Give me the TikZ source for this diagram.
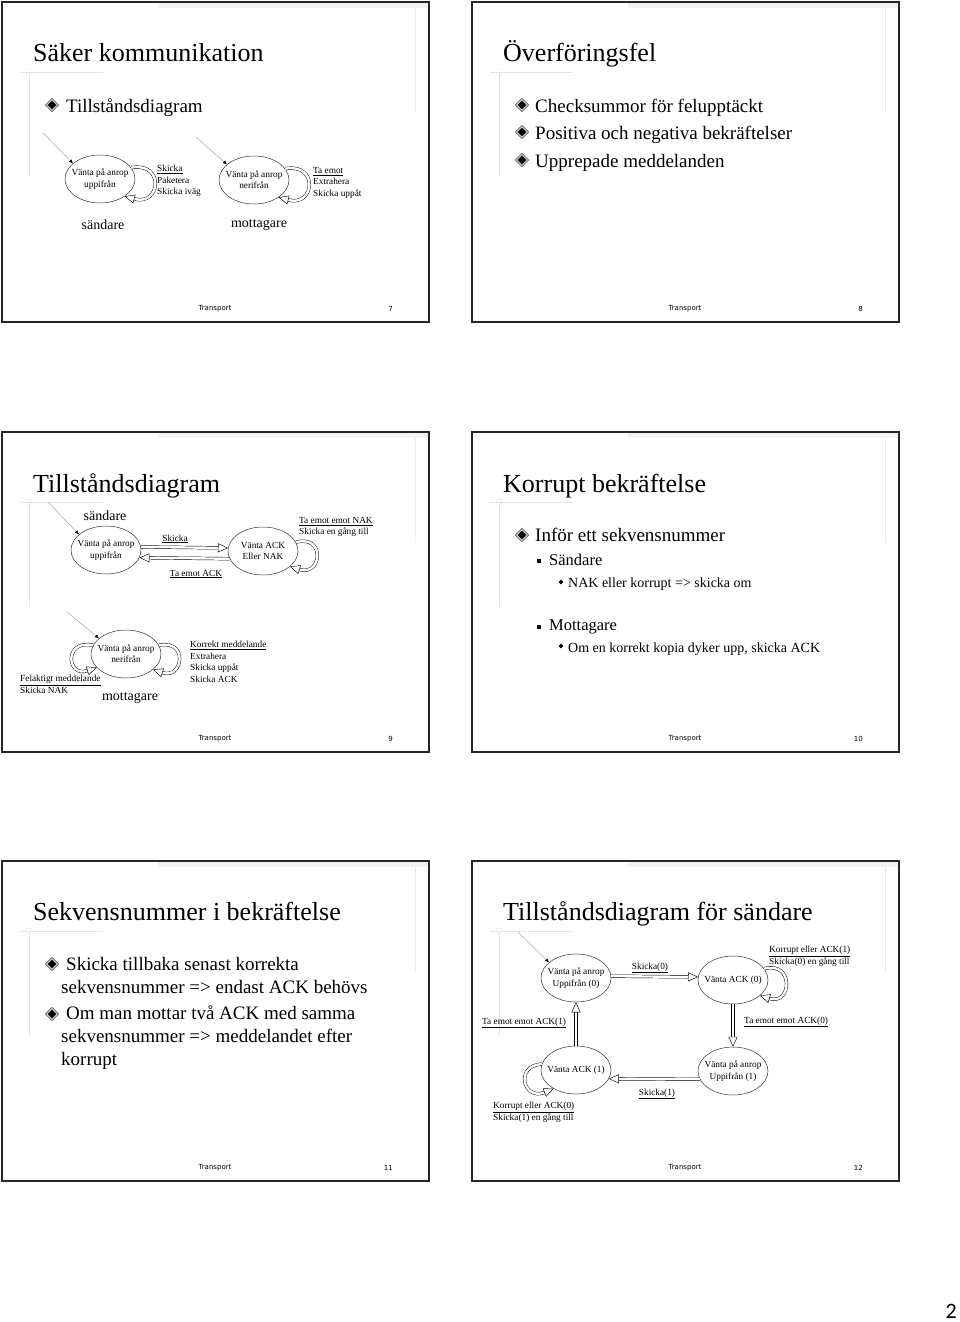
\documentclass[tikz,border=0pt]{standalone}
\usepackage{fontspec}
\setmainfont{Liberation Serif}
\newfontfamily\footfont{DejaVu Sans}
\newfontfamily\pagefont{Carlito}
\usetikzlibrary{shapes.geometric,arrows.meta}

\tikzset{
  title/.style={anchor=base west, inner sep=0pt, font=\fontsize{26}{31}\selectfont},
  item/.style={anchor=base west, inner sep=0pt, font=\fontsize{19}{23}\selectfont},
  para/.style={anchor=north west, inner sep=0pt, align=left, font=\fontsize{19}{23}\selectfont},
  subitem/.style={anchor=base west, inner sep=0pt, font=\fontsize{16.5}{20}\selectfont},
  subsubitem/.style={anchor=base west, inner sep=0pt, font=\fontsize{14}{17}\selectfont},
  bul/.style={diamond, draw=black, line width=0.4pt, double=gray!55, double distance=1.4pt,
    fill=black, minimum size=11pt, inner sep=0pt},
  sq/.style={rectangle, fill=black, minimum size=4.5pt, inner sep=0pt},
  dot/.style={diamond, fill=black, minimum size=5pt, inner sep=0pt},
  state/.style={ellipse, draw=black!80, line width=0.5pt, minimum width=70pt, minimum height=48pt,
    inner xsep=-12pt, inner ysep=0pt, align=center, font=\fontsize{9.3}{11.3}\selectfont},
  lbl/.style={anchor=north west, inner sep=0pt, align=left, font=\fontsize{9.3}{11.5}\selectfont},
  tag/.style={inner sep=0pt, font=\fontsize{9.3}{11.3}\selectfont},
  role/.style={inner sep=0pt, font=\fontsize{14}{17}\selectfont},
  foot/.style={inner sep=0pt, font=\footfont\fontsize{7}{8}\selectfont},
  init/.style={draw=gray!70, line width=0.5pt, -{Latex[color=black, length=4pt, width=3.5pt]}},
  hollow/.style={double, double distance=2.4pt, line width=0.45pt,
    -{Triangle[open, length=10pt, width=9pt]}},
}

\begin{document}
\begin{tikzpicture}[x=1pt,y=-1pt]
  \useasboundingbox (0,0) rectangle (960,1322);

  % slide frames and footers
  \foreach \x/\y/\n in {0/0/7,470/0/8,0/430/9,470/430/10,0/859/11,470/859/12}{
    \fill[gray!10] (\x+158,\y+3) rectangle (\x+428,\y+8);
    \draw[gray!15] (\x+415,\y+8) -- (\x+415,\y+113);
    \draw[gray!20] (\x+20,\y+72) -- (\x+103,\y+72) (\x+29,\y+72) -- (\x+29,\y+177);
    \draw[gray!20] (\x+29,\y+72) circle (3);
    \draw[line width=1.5pt,black!85] (\x+2,\y+2) rectangle (\x+429,\y+322);
    \node[foot] (foot\n) at (\x+215,\y+308.5) {Transport};
    \node[foot, anchor=east] (num\n) at (\x+393,\y+308.5) {\n};
  }

  % slide 7
  \node[title] (t7) at (33,62) {Säker kommunikation};
  \node[bul] (b7) at (52,105) {};
  \node[item] (i7) at (66,112) {Tillståndsdiagram};
  \node[state] (s7a) at (100,179) {Vänta på anrop\\uppifrån};
  \node[state] (s7b) at (254,180) {Vänta på anrop\\nerifrån};
  \coordinate (in7a) at (43,133);
  \coordinate (in7b) at (196,137);
  \draw[init] (in7a) -- (s7a.150);
  \draw[init] (in7b) -- (s7b.150);
  \draw[hollow] (s7a.20) .. controls +(34,-6) and +(36,10) .. (s7a.-35);
  \draw[hollow] (s7b.20) .. controls +(34,-6) and +(36,10) .. (s7b.-35);
  \node[lbl] (l7a) at (157,165) {\underline{Skicka}\\Paketera\\Skicka iväg};
  \node[lbl] (l7b) at (313,167) {\underline{Ta emot}\\Extrahera\\Skicka uppåt};
  \node[role] (r7a) at (103,225) {sändare};
  \node[role] (r7b) at (259,225) {mottagare};

  % slide 8
  \node[title] (t8) at (503,62) {Överföringsfel};
  \node[bul] (b8a) at (522,105) {};
  \node[item] (i8a) at (535,112) {Checksummor för felupptäckt};
  \node[bul] (b8b) at (522,132) {};
  \node[item] (i8b) at (535,139) {Positiva och negativa bekräftelser};
  \node[bul] (b8c) at (522,160) {};
  \node[item] (i8c) at (535,167) {Upprepade meddelanden};

  % slide 9
  \node[title] (t9) at (33,492) {Tillståndsdiagram};
  \node[role] (r9a) at (105,516) {sändare};
  \node[state] (s9a) at (106,550) {Vänta på anrop\\uppifrån};
  \node[state] (s9b) at (263,551) {Vänta ACK\\Eller NAK};
  \coordinate (in9a) at (48,502);
  \draw[init] (in9a) -- (s9a.150);
  \draw[hollow] (s9a.5) -- (s9b.175);
  \draw[hollow] (s9b.193) -- (s9a.-13);
  \draw[hollow] (s9b.15) .. controls +(30,-8) and +(32,10) .. (s9b.-30);
  \node[tag] (l9a) at (175,539) {\underline{Skicka}};
  \node[tag] (l9b) at (196,574) {\underline{Ta emot ACK}};
  \node[lbl] (l9c) at (299,517) {\underline{Ta emot emot NAK}\\Skicka en gång till};
  \node[state] (s9c) at (126,654) {Vänta på anrop\\nerifrån};
  \coordinate (in9c) at (67,612);
  \draw[init] (in9c) -- (s9c.150);
  \draw[hollow] (s9c.165) .. controls +(-30,-6) and +(-30,10) .. (s9c.205);
  \draw[hollow] (s9c.15) .. controls +(30,-6) and +(30,10) .. (s9c.-30);
  \node[lbl] (l9d) at (20,675) {\underline{Felaktigt meddelande}\\Skicka NAK};
  \node[lbl] (l9e) at (190,641) {\underline{Korrekt meddelande}\\Extrahera\\Skicka uppåt\\Skicka ACK};
  \node[role] (r9b) at (130,698) {mottagare};

  % slide 10
  \node[title] (t10) at (503,492) {Korrupt bekräftelse};
  \node[bul] (b10) at (522,535) {};
  \node[item] (i10) at (535,541) {Inför ett sekvensnummer};
  \node[sq] (q10a) at (539,561) {};
  \node[subitem] (u10a) at (549,565) {Sändare};
  \node[dot] (d10a) at (561,582) {};
  \node[subsubitem] (v10a) at (568,587) {NAK eller korrupt => skicka om};
  \node[sq] (q10b) at (539,627) {};
  \node[subitem] (u10b) at (549,630) {Mottagare};
  \node[dot] (d10b) at (561,646) {};
  \node[subsubitem] (v10b) at (568,652) {Om en korrekt kopia dyker upp, skicka ACK};

  % slide 11
  \node[title] (t11) at (33,920) {Sekvensnummer i bekräftelse};
  \node[bul] (b11a) at (52,964) {};
  \node[para] (p11a) at (61,956.7) {\hspace*{5pt}Skicka tillbaka senast korrekta\\sekvensnummer => endast ACK behövs};
  \node[bul] (b11b) at (52,1014) {};
  \node[para] (p11b) at (61,1006) {\hspace*{5pt}Om man mottar två ACK med samma\\sekvensnummer => meddelandet efter\\korrupt};

  % slide 12
  \node[title] (t12) at (503,920) {Tillståndsdiagram för sändare};
  \node[state] (s12a) at (576,978) {Vänta på anrop\\Uppifrån (0)};
  \node[state] (s12b) at (733,980) {Vänta ACK (0)};
  \node[state] (s12c) at (733,1071) {Vänta på anrop\\Uppifrån (1)};
  \node[state] (s12d) at (576,1070) {Vänta ACK (1)};
  \coordinate (in12) at (518,932);
  \draw[init] (in12) -- (s12a.150);
  \draw[hollow] (s12a.3) -- (s12b.175);
  \draw[hollow] (s12b.south) -- (s12c.north);
  \draw[hollow] (s12c.194) -- (s12d.-15);
  \draw[hollow] (s12d.north) -- (s12a.south);
  \draw[hollow] (s12b.20) .. controls +(30,-8) and +(32,10) .. (s12b.-30);
  \draw[hollow] (s12d.170) .. controls +(-28,2) and +(-30,12) .. (s12d.220);
  \node[tag] (l12a) at (650,968) {\underline{Skicka(0)}};
  \node[tag, anchor=west] (l12b) at (744,1022) {\underline{Ta emot emot ACK(0)}};
  \node[tag] (l12c) at (657,1094) {\underline{Skicka(1)}};
  \node[tag, anchor=west] (l12d) at (482,1023) {\underline{Ta emot emot ACK(1)}};
  \node[lbl] (l12e) at (769,946) {\underline{Korrupt eller ACK(1)}\\Skicka(0) en gång till};
  \node[lbl] (l12f) at (493,1102) {\underline{Korrupt eller ACK(0)}\\Skicka(1) en gång till};

  % page number
  \node[inner sep=0pt, anchor=east, font=\pagefont\fontsize{22}{26}\selectfont] (page) at (957,1311) {2};
\end{tikzpicture}
\end{document}
